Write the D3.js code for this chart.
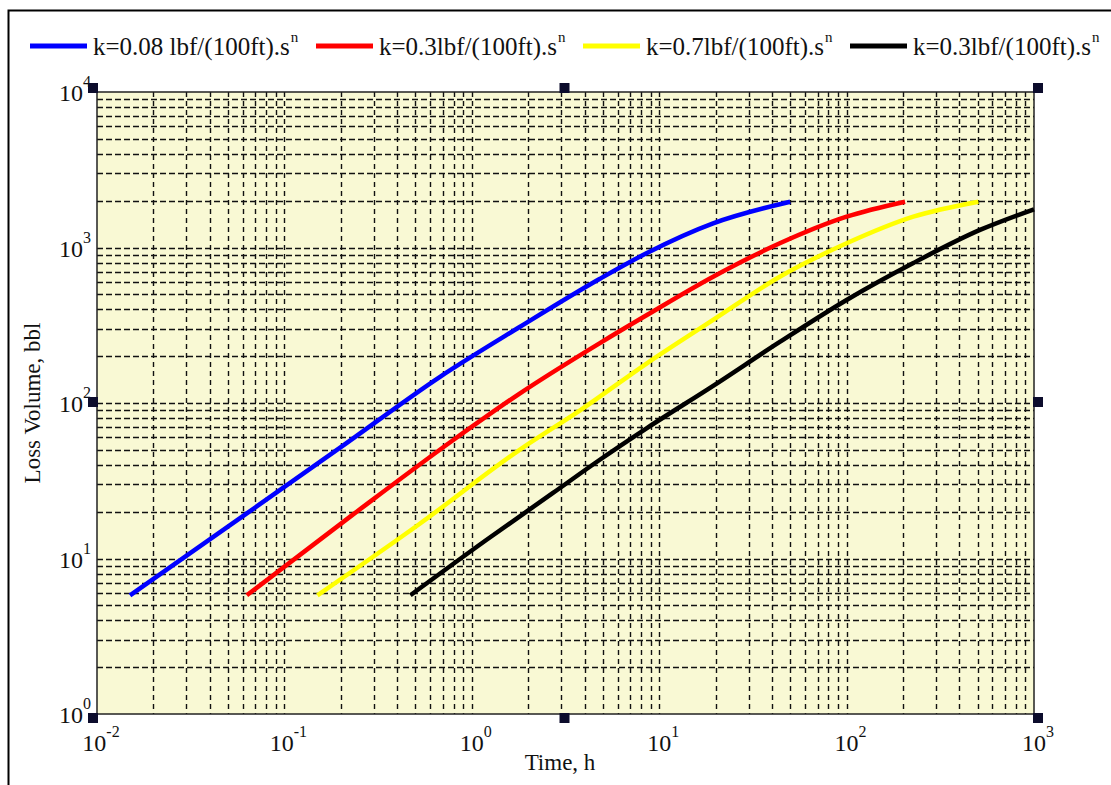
<!DOCTYPE html>
<html>
<head>
<meta charset="utf-8">
<script src="https://cdn.jsdelivr.net/npm/d3@7"></script>
<style>
  body { margin: 0; background: #fff; }
  text { font-family: "Liberation Serif", "Times New Roman", serif; fill: #111; }
</style>
</head>
<body>
<div id="chart"></div>
<script>
// values (time in h, loss volume in bbl)
var blueT   = [0.015, 0.063, 0.2, 0.68, 1.8, 4.8, 8.6, 19.4, 50];
var blueV   = [5.8, 19.5, 52, 148, 308, 627, 922, 1430, 1970];
var redT    = [0.063, 0.23, 0.8, 1.8, 4.8, 8.6, 19.4, 44, 100, 205];
var redV    = [5.8, 19, 58, 115, 242, 368, 649, 1064, 1578, 1970];
var yellowT = [0.15, 0.53, 1.8, 3.8, 8.6, 19.4, 44, 100, 227, 505];
var yellowV = [5.8, 16.8, 50, 90, 180, 342, 649, 1064, 1578, 1970];
var blackT  = [0.47, 1.2, 2.7, 4.8, 8.6, 19.4, 44, 100, 227, 515, 1000];
var blackV  = [5.8, 13.2, 26.3, 43, 69, 129, 247, 460, 795, 1297, 1761];

var seriesNames = ["k=0.08 lbf/(100ft).s", "k=0.3lbf/(100ft).s", "k=0.7lbf/(100ft).s", "k=0.3lbf/(100ft).s"];
var seriesColors = ["#0000ff", "#ff0000", "#ffff00", "#000000"];
var xExp = [-2, -1, 0, 1, 2, 3];
var yExp = [0, 1, 2, 3, 4];

var series = [
  { t: blueT, v: blueV },
  { t: redT, v: redV },
  { t: yellowT, v: yellowV },
  { t: blackT, v: blackV }
];

var W = 1111, H = 785;
var pLeft = 97, pRight = 1034, pTop = 92, pBottom = 714;

var svg = d3.select("#chart").append("svg")
    .attr("width", W)
    .attr("height", H);

// outer frame (top and left edge only, as in the picture)
svg.append("path")
    .attr("d", "M8.5,785 L8.5,10.5 L1111,10.5")
    .style("fill", "none")
    .style("stroke", "#000")
    .style("stroke-width", 2);

var x = d3.scaleLog().domain([0.01, 1000]).range([pLeft, pRight]);
var y = d3.scaleLog().domain([1, 10000]).range([pBottom, pTop]);

svg.append("rect")
    .attr("x", pLeft).attr("y", pTop)
    .attr("width", pRight - pLeft).attr("height", pBottom - pTop)
    .style("fill", "#f9f9d4");

// minor + major grid, every 1..9 of each decade
var xGrid = [], yGrid = [];
xExp.forEach(function (e) { for (var m = 1; m < 10; m++) { var v = m * Math.pow(10, e); if (v > 0.01 && v < 1000) xGrid.push(v); } });
yExp.forEach(function (e) { for (var m = 1; m < 10; m++) { var v = m * Math.pow(10, e); if (v > 1 && v < 10000) yGrid.push(v); } });

svg.selectAll("line.gx")
    .data(xGrid)
    .enter()
    .append("line")
    .attr("class", "gx")
    .attr("x1", function (d) { return Math.round(x(d)) + 0.5; })
    .attr("x2", function (d) { return Math.round(x(d)) + 0.5; })
    .attr("y1", pTop).attr("y2", pBottom)
    .style("stroke", "#111")
    .style("stroke-width", 1.4)
    .style("stroke-dasharray", "5,4");

svg.selectAll("line.gy")
    .data(yGrid)
    .enter()
    .append("line")
    .attr("class", "gy")
    .attr("y1", function (d) { return Math.round(y(d)) + 0.5; })
    .attr("y2", function (d) { return Math.round(y(d)) + 0.5; })
    .attr("x1", pLeft).attr("x2", pRight)
    .style("stroke", "#111")
    .style("stroke-width", 1.4)
    .style("stroke-dasharray", "6,3");

// plot border
svg.append("rect")
    .attr("x", pLeft).attr("y", pTop)
    .attr("width", pRight - pLeft).attr("height", pBottom - pTop)
    .style("fill", "none")
    .style("stroke", "#222")
    .style("stroke-width", 1.5);

// curves
var line = d3.line()
    .x(function (d) { return x(d[0]); })
    .y(function (d) { return y(d[1]); })
    .curve(d3.curveMonotoneX);

series.forEach(function (s, i) {
  var pts = s.t.map(function (t, j) { return [t, s.v[j]]; });
  svg.append("path")
      .datum(pts)
      .attr("d", line)
      .style("fill", "none")
      .style("stroke", seriesColors[i])
      .style("stroke-width", 4.5)
      .style("stroke-linecap", "butt");
});

// tick labels
var xl = svg.selectAll("text.xl")
    .data(xExp)
    .enter()
    .append("text")
    .attr("class", "xl")
    .attr("x", function (d) { return x(Math.pow(10, d)) + 4; })
    .attr("y", 751)
    .style("font-size", "24px")
    .style("text-anchor", "middle");
xl.append("tspan").text("10");
xl.append("tspan").attr("dy", -14).style("font-size", "16px").text(function (d) { return d; });

var yl = svg.selectAll("text.yl")
    .data(yExp)
    .enter()
    .append("text")
    .attr("class", "yl")
    .attr("x", 91)
    .attr("y", function (d) { return y(Math.pow(10, d)) + 9; })
    .style("font-size", "24px")
    .style("text-anchor", "end");
yl.append("tspan").text("10");
yl.append("tspan").attr("dy", -14).style("font-size", "16px").text(function (d) { return d; });

// axis titles
svg.append("text")
    .attr("x", 560).attr("y", 770)
    .style("font-size", "23px")
    .style("text-anchor", "middle")
    .text("Time, h");

svg.append("text")
    .attr("transform", "translate(40," + ((pTop + pBottom) / 2) + ") rotate(-90)")
    .style("font-size", "23px")
    .style("text-anchor", "middle")
    .text("Loss Volume, bbl");

// selection handles around the region, pushed slightly outward
var hx = [pLeft, (pLeft + pRight) / 2, pRight], hy = [pTop, (pTop + pBottom) / 2, pBottom];
var offs = [-9, -6, -1];
var handles = [];
hx.forEach(function (a, i) { hy.forEach(function (b, j) { if (!(i === 1 && j === 1)) handles.push([a + offs[i], b + offs[j]]); }); });
svg.selectAll("rect.handle")
    .data(handles)
    .enter()
    .append("rect")
    .attr("x", function (d) { return d[0]; })
    .attr("y", function (d) { return d[1]; })
    .attr("width", 10).attr("height", 10)
    .style("fill", "#0c0c2c");

// legend
var legX = [30, 316, 583, 850];
var leg = svg.selectAll("g.leg")
    .data(seriesNames)
    .enter()
    .append("g")
    .attr("class", "leg")
    .attr("transform", function (d, i) { return "translate(" + legX[i] + ",46)"; });
leg.append("line")
    .attr("x1", 0).attr("x2", 57)
    .style("stroke", function (d, i) { return seriesColors[i]; })
    .style("stroke-width", 5);
var lt = leg.append("text")
    .attr("x", 63).attr("y", 9)
    .style("font-size", "25px");
lt.append("tspan").text(function (d) { return d; });
lt.append("tspan").attr("dy", -13).attr("dx", 1).style("font-size", "15px").text("n");
</script>
</body>
</html>
